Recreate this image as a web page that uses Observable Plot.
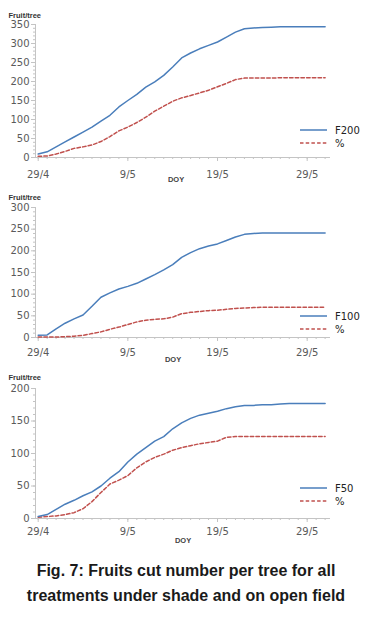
<!DOCTYPE html>
<html><head><meta charset="utf-8">
<script src="https://cdn.jsdelivr.net/npm/d3@7"></script>
<script src="https://cdn.jsdelivr.net/npm/@observablehq/plot@0.6"></script>
<style>
body{margin:0;background:#fff;width:372px;}
svg{display:block}
#caption{font-family:"Liberation Sans",Arial,sans-serif;font-weight:bold;font-size:16px;line-height:25px;text-align:center;color:#1a1a1a;margin-top:8px}
</style></head><body><div id="charts"></div><div id="caption">Fig. 7: Fruits cut number per tree for all<br>treatments under shade and on open field</div>
<script>
// days since 29/4
const days = [0,1,2,3,4,5,6,7,8,9,10,11,12,13,14,15,16,17,18,19,20,21,22,23,24,25,26,27,28,29,30,31,32];
const xTicks = [0,10,20,30];
const xTickLabels = ["29/4","9/5","19/5","29/5"];

const f200    = [9,15,28,41,54,67,80,96,111,133,150,166,185,199,216,238,262,275,286,295,304,317,330,339,341,342,343,344,344,344,344,344,344];
const f200Pct = [3,4,9,16,24,28,33,42,55,70,80,92,106,122,135,148,157,163,170,177,186,195,205,209,209,209,209,210,210,210,210,210,210];
const f100    = [5,6,20,33,43,52,72,93,103,112,118,125,135,145,156,168,185,196,205,211,216,224,232,238,240,241,241,241,241,241,241,241,241];
const f100Pct = [1,1,1,2,3,5,9,13,19,24,30,36,40,42,43,47,55,58,60,62,63,65,67,68,69,70,70,70,70,70,70,70,70];
const f50     = [3,6,14,22,28,35,41,50,62,72,87,99,109,119,126,138,147,154,159,162,165,169,172,174,174,175,175,176,177,177,177,177,177];
const f50Pct  = [2,3,4,6,9,15,26,40,53,59,66,78,87,94,99,105,109,112,115,117,119,125,126,126,126,126,126,126,126,126,126,126,126];

const yTicks200 = [0,50,100,150,200,250,300,350];
const yTicks100 = [0,50,100,150,200,250,300];
const yTicks50  = [0,50,100,150,200];

const seriesNames = ["F200","F100","F50"];
const pctName = "%";

const BLUE = "#4a7ebb", RED = "#c0504d", AXIS = "#c4c4c4", TXT = "#5a5a5a";
const xDomain = [-0.3, 32.6];

function panel(o) {
  const blueData = days.map((d, i) => ({day: d, v: o.blue[i]}));
  const redData = days.map((d, i) => ({day: d, v: o.red[i]}));
  const yMax = o.yTicks[o.yTicks.length - 1];
  const yMinor = d3.range(0, yMax + 0.1, 10);
  const plot = Plot.plot({
    width: 372, height: o.height,
    marginLeft: 35, marginRight: 42, marginTop: o.marginTop, marginBottom: o.marginBottom,
    style: {fontFamily: "DejaVu Sans, sans-serif", fontSize: "10px", color: TXT, background: "white", overflow: "visible"},
    x: {domain: xDomain},
    y: {domain: [0, yMax]},
    marks: [
      Plot.axisY({ticks: yMinor, tickSize: 2, stroke: AXIS, fill: "none", label: null}),
      Plot.axisY({ticks: o.yTicks, tickSize: 4, tickPadding: 2, stroke: AXIS, fill: TXT, label: null}),
      Plot.axisX({ticks: days, tickSize: 2, stroke: AXIS, fill: "none", label: null}),
      Plot.axisX({ticks: xTicks, tickSize: 4, tickPadding: o.xPad, stroke: AXIS, fill: TXT,
        tickFormat: d => xTickLabels[xTicks.indexOf(d)], label: null}),
      Plot.ruleY([0], {stroke: AXIS}),
      Plot.ruleX([xDomain[0]], {stroke: AXIS}),
      Plot.line(redData, {x: "day", y: "v", stroke: RED, strokeWidth: 1.5, strokeDasharray: "3.5,2.2"}),
      Plot.line(blueData, {x: "day", y: "v", stroke: BLUE, strokeWidth: 1.5}),
      Plot.text(["Fruit/tree"], {frameAnchor: "top-left", dx: -27, dy: -o.labelUp, textAnchor: "start",
        fontWeight: "bold", fontSize: 7.5, fill: "#333", fontFamily: "Liberation Sans, Arial, sans-serif"}),
      Plot.text(["DOY"], {frameAnchor: "bottom", dx: o.doyDx, dy: 24, fontWeight: "bold", fontSize: 7.5,
        fill: "#444", fontFamily: "Liberation Sans, Arial, sans-serif"})
    ]
  });
  // legend
  const svg = d3.select(plot);
  const y0 = o.height - o.marginBottom;
  const lg = svg.append("g").attr("text-anchor", "start");
  const items = [
    {name: o.name, stroke: BLUE, dash: null, y: y0 - o.legUp},
    {name: pctName, stroke: RED, dash: "3.5,2.2", y: y0 - o.legUp + 13}
  ];
  items.forEach(it => {
    lg.append("line").attr("x1", 300).attr("x2", 327).attr("y1", it.y).attr("y2", it.y)
      .attr("stroke", it.stroke).attr("stroke-width", 1.5).attr("stroke-dasharray", it.dash);
    lg.append("text").attr("x", 335).attr("y", it.y).attr("dy", "0.35em").attr("text-anchor", "start")
      .attr("font-family", "DejaVu Sans, sans-serif").attr("font-size", 10).attr("fill", "#222")
      .text(it.name);
  });
  return plot;
}

const charts = document.getElementById("charts");
charts.append(panel({name: seriesNames[0], blue: f200, red: f200Pct, yTicks: yTicks200,
  height: 185, marginTop: 24, marginBottom: 28, xPad: 9, labelUp: 12, doyDx: -7, legUp: 27}));
charts.append(panel({name: seriesNames[1], blue: f100, red: f100Pct, yTicks: yTicks100,
  height: 180, marginTop: 22, marginBottom: 28, xPad: 7, labelUp: 13, doyDx: -10, legUp: 21}));
charts.append(panel({name: seriesNames[2], blue: f50, red: f50Pct, yTicks: yTicks50,
  height: 185, marginTop: 23, marginBottom: 32, xPad: 5, labelUp: 14, doyDx: 0, legUp: 30}));
</script></body></html>
